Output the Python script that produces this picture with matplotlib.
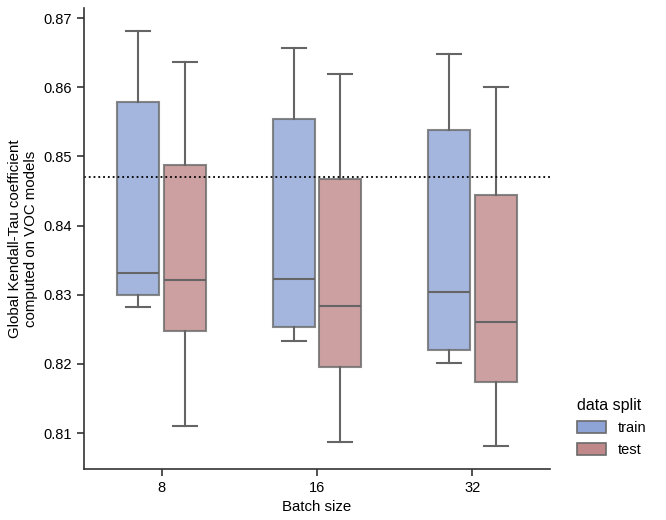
import matplotlib
matplotlib.use("Agg")
import matplotlib.pyplot as plt
from matplotlib.patches import Patch

plt.rcParams['font.family'] = ['Liberation Sans', 'DejaVu Sans']

batch_sizes = ["8", "16", "32"]
splits = ["train", "test"]
split_colors = {"train": "#8ea3d6", "test": "#c08888"}

# box stats, per batch size
train_whishi = [0.8681, 0.8657, 0.8648]
train_q3 = [0.8579, 0.8554, 0.8538]
train_med = [0.8331, 0.8323, 0.8304]
train_q1 = [0.8299, 0.8253, 0.8220]
train_whislo = [0.8282, 0.8233, 0.8202]

test_whishi = [0.8636, 0.8619, 0.8601]
test_q3 = [0.8488, 0.8468, 0.8445]
test_med = [0.8322, 0.8284, 0.8260]
test_q1 = [0.8247, 0.8195, 0.8174]
test_whislo = [0.8110, 0.8087, 0.8081]

ref_line = 0.8471

stats = {
    "train": (train_whislo, train_q1, train_med, train_q3, train_whishi),
    "test": (test_whislo, test_q1, test_med, test_q3, test_whishi),
}

fig, ax = plt.subplots(figsize=(6.66, 5.2), dpi=100)
fig.subplots_adjust(left=0.126, right=0.826, top=0.985, bottom=0.098)

offsets = {"train": -0.15, "test": 0.15}
line_col = "#656565"
for s in splits:
    lo, q1, med, q3, hi = stats[s]
    bstats = []
    for i in range(len(batch_sizes)):
        bstats.append({"whislo": lo[i], "q1": q1[i], "med": med[i],
                       "q3": q3[i], "whishi": hi[i], "fliers": []})
    pos = [i + offsets[s] for i in range(len(batch_sizes))]
    bp = ax.bxp(bstats, positions=pos, widths=0.27, patch_artist=True,
                showfliers=False, capwidths=0.155, manage_ticks=False,
                boxprops=dict(facecolor=split_colors[s], edgecolor="#6a6a6a",
                              linewidth=1.5, alpha=0.8),
                whiskerprops=dict(color=line_col, linewidth=1.5),
                capprops=dict(color=line_col, linewidth=1.5),
                medianprops=dict(color=line_col, linewidth=1.5))

ax.axhline(ref_line, color="black", linestyle=":", linewidth=1.3)

ax.set_xlim(-0.5, len(batch_sizes) - 0.5)
ax.set_ylim(0.8048, 0.8715)
ax.set_xticks(range(len(batch_sizes)))
ax.set_xticklabels(batch_sizes)
ax.set_yticks([0.81, 0.82, 0.83, 0.84, 0.85, 0.86, 0.87])
ax.tick_params(labelsize=10.5, length=5, width=1.2, color="#333333")
for side in ["top", "right"]:
    ax.spines[side].set_visible(False)
for side in ["left", "bottom"]:
    ax.spines[side].set_linewidth(1.2)
    ax.spines[side].set_color("#333333")

ax.set_xlabel("Batch size", fontsize=10.8)
ax.set_ylabel("Global Kendall-Tau coefficient\ncomputed on VOC models", fontsize=10.8)

handles = [Patch(facecolor=split_colors[s], edgecolor="#6a6a6a", linewidth=1.2, label=s)
           for s in splits]
leg = ax.legend(handles=handles, title="data split", frameon=False,
                loc="lower left", bbox_to_anchor=(1.03, -0.003), fontsize=10.5,
                title_fontsize=11.5, handlelength=2.0, handleheight=0.9,
                labelspacing=0.55)
leg._legend_box.align = "left"

fig.savefig("out.png", dpi=100)
